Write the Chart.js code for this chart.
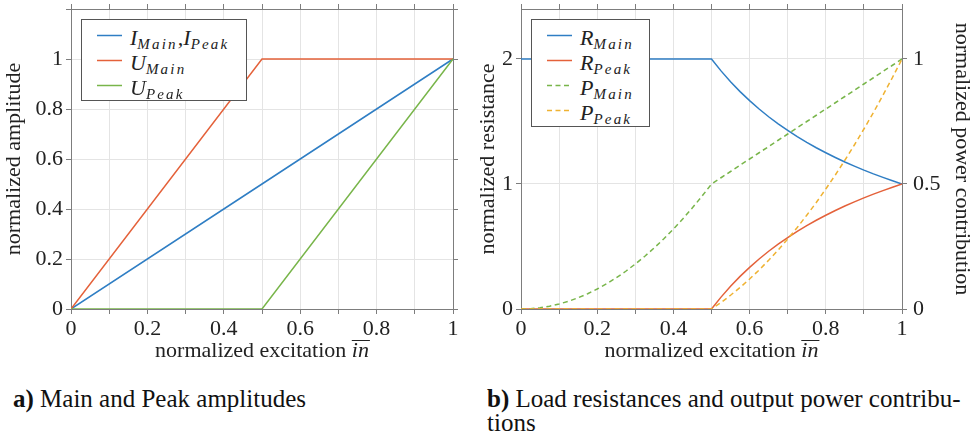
<!DOCTYPE html>
<html>
<head>
<meta charset="utf-8">
<script src="https://cdn.jsdelivr.net/npm/chart.js@4.4.0/dist/chart.umd.min.js"></script>
<style>
  body { margin: 0; background: #fff; width: 979px; height: 440px; position: relative; overflow: hidden; }
  canvas { position: absolute; top: 0; }
  .legend { position: absolute; background: #fff; border: 1px solid #555; box-sizing: border-box;
            font-family: "Liberation Serif", serif; font-size: 22px; color: #222; }
  .legend .row { position: absolute; left: 0; right: 0; height: 25px; }
  .legend svg { position: absolute; left: 15px; top: 10px; }
  .legend .txt { position: absolute; left: 48px; top: 2px; line-height: 25px; white-space: nowrap; font-style: italic; }
  .legend sub { font-size: 15px; letter-spacing: 2.2px; vertical-align: -4px; line-height: 0; }
  .caption { position: absolute; font-family: "Liberation Serif", serif; font-size: 25px; color: #111; line-height: 24px; }
</style>
</head>
<body>
<canvas id="chartA" width="474" height="370" style="left:0"></canvas>
<canvas id="chartB" width="505" height="370" style="left:474px"></canvas>
<div class="legend" id="legendA" style="left:81px; top:19px; width:166px; height:82px"></div>
<div class="legend" id="legendB" style="left:531px; top:19px; width:119px; height:108px"></div>
<div class="caption" style="left:13px; top:387px"><b>a)</b> Main and Peak amplitudes</div>
<div class="caption" style="left:487px; top:387px"><b>b)</b> Load resistances and output power contribu-<br>tions</div>
<script>
// (a) amplitudes, piecewise linear over the excitation
const ampX = [0, 0.5, 1];
const iMainPeak = [0, 0.5, 1];
const uMain = [0, 1, 1];
const uPeak = [0, 0, 1];

// (b) resistances (left axis) and power contributions (right axis)
const excX = [0, 0.025, 0.05, 0.075, 0.1, 0.125, 0.15, 0.175, 0.2, 0.225, 0.25,
              0.275, 0.3, 0.325, 0.35, 0.375, 0.4, 0.425, 0.45, 0.475, 0.5,
              0.525, 0.55, 0.575, 0.6, 0.625, 0.65, 0.675, 0.7, 0.725, 0.75,
              0.775, 0.8, 0.825, 0.85, 0.875, 0.9, 0.925, 0.95, 0.975, 1];
const rMain = [2, 2, 2, 2, 2, 2, 2, 2, 2, 2, 2,
               2, 2, 2, 2, 2, 2, 2, 2, 2, 2,
               1.905, 1.818, 1.739, 1.667, 1.6, 1.538, 1.481, 1.429, 1.379, 1.333,
               1.29, 1.25, 1.212, 1.176, 1.143, 1.111, 1.081, 1.053, 1.026, 1];
const rPeak = [0, 0, 0, 0, 0, 0, 0, 0, 0, 0, 0,
               0, 0, 0, 0, 0, 0, 0, 0, 0, 0,
               0.095, 0.182, 0.261, 0.333, 0.4, 0.462, 0.519, 0.571, 0.621, 0.667,
               0.71, 0.75, 0.788, 0.824, 0.857, 0.889, 0.919, 0.947, 0.974, 1];
const pMain = [0, 0.001, 0.005, 0.011, 0.02, 0.031, 0.045, 0.061, 0.08, 0.101, 0.125,
               0.151, 0.18, 0.211, 0.245, 0.281, 0.32, 0.361, 0.405, 0.451, 0.5,
               0.525, 0.55, 0.575, 0.6, 0.625, 0.65, 0.675, 0.7, 0.725, 0.75,
               0.775, 0.8, 0.825, 0.85, 0.875, 0.9, 0.925, 0.95, 0.975, 1];
const pPeak = [0, 0, 0, 0, 0, 0, 0, 0, 0, 0, 0,
               0, 0, 0, 0, 0, 0, 0, 0, 0, 0,
               0.026, 0.055, 0.086, 0.12, 0.156, 0.195, 0.236, 0.28, 0.326, 0.375,
               0.426, 0.48, 0.536, 0.595, 0.656, 0.72, 0.786, 0.855, 0.926, 1];

// labelled tick values
const xTicks = [0, 0.2, 0.4, 0.6, 0.8, 1];
const ampTicks = [0, 0.2, 0.4, 0.6, 0.8, 1];
const resTicks = [0, 1, 2];
const powTicks = [0, 0.5, 1];

const BLUE = '#2f7ec4', RED = '#e4613a', GREEN = '#78b54a', YELLOW = '#efb232';
const GRID = '#e4e4e4', AXIS = '#7d7d7d', TEXT = '#222';
const FAMILY = '"Liberation Serif", "DejaVu Serif", serif';
const serif = { family: FAMILY, size: 22 };

const pts = (xs, ys) => xs.map((x, i) => ({ x: x, y: ys[i] }));

function labelIf(list) {
  return v => {
    const hit = list.find(t => Math.abs(t - v) < 1e-6);
    return hit === undefined ? '' : String(hit);
  };
}

// fixed-size axis so both plot frames line up
function axis(pos, min, max, step, opts) {
  const o = opts || {};
  const horizontal = pos === 'top' || pos === 'bottom';
  return {
    type: 'linear', position: pos, min: min, max: max,
    border: { display: true, color: AXIS, width: 1 },
    grid: { color: GRID, tickColor: AXIS, tickLength: 5, drawOnChartArea: !!o.grid },
    ticks: {
      display: !!o.labels, stepSize: step, includeBounds: false, autoSkip: false, maxRotation: 0,
      padding: o.pad || 3, font: serif, color: TEXT,
      callback: o.labels ? labelIf(o.labels) : () => ''
    },
    title: o.title ? { display: true, text: o.title, font: serif, color: TEXT, padding: { top: o.titlePad || 1, bottom: 0 } } : { display: false },
    afterFit: s => {
      if (horizontal) s.height = o.size; else s.width = o.size;
      s.paddingTop = s.paddingBottom = s.paddingLeft = s.paddingRight = 0;
    }
  };
}

// x-axis title with an overlined italic "in"
const excitationTitle = {
  id: 'excitationTitle',
  afterDraw(chart) {
    const { ctx, chartArea } = chart;
    const head = 'normalized excitation ';
    ctx.save();
    ctx.fillStyle = TEXT;
    ctx.textBaseline = 'alphabetic';
    ctx.font = '22px ' + FAMILY;
    const w1 = ctx.measureText(head).width;
    ctx.font = 'italic 22px ' + FAMILY;
    const w2 = ctx.measureText('in').width;
    const x0 = (chartArea.left + chartArea.right) / 2 - (w1 + w2) / 2;
    const y = 357;
    ctx.font = '22px ' + FAMILY;
    ctx.fillText(head, x0, y);
    ctx.font = 'italic 22px ' + FAMILY;
    ctx.fillText('in', x0 + w1, y);
    ctx.strokeStyle = TEXT;
    ctx.lineWidth = 1;
    ctx.beginPath();
    ctx.moveTo(x0 + w1, 340.5);
    ctx.lineTo(x0 + w1 + w2 + 1, 340.5);
    ctx.stroke();
    ctx.restore();
  }
};

const lineDefaults = { pointRadius: 0, borderWidth: 1.5, fill: false, tension: 0 };

// legend boxes with subscripted symbols
function buildLegend(el, chart) {
  chart.data.datasets.forEach((ds, i) => {
    const row = document.createElement('div');
    row.className = 'row';
    row.style.top = (2.5 + 25 * i) + 'px';
    const dash = ds.borderDash ? ' stroke-dasharray="5 3.5"' : '';
    row.innerHTML =
      '<svg width="25" height="5"><line x1="0" y1="2.5" x2="25" y2="2.5" stroke="' + ds.borderColor +
      '" stroke-width="1.5"' + dash + '/></svg><span class="txt">' + ds.tex + '</span>';
    el.appendChild(row);
  });
}

function drawCharts() {
  const chartA = new Chart(document.getElementById('chartA'), {
    type: 'line',
    data: {
      datasets: [
        Object.assign({ label: 'I_Main, I_Peak', tex: '<i>I</i><sub>Main</sub>,<i>I</i><sub>Peak</sub>',
          data: pts(ampX, iMainPeak), borderColor: BLUE, order: 2 }, lineDefaults),
        Object.assign({ label: 'U_Main', tex: '<i>U</i><sub>Main</sub>',
          data: pts(ampX, uMain), borderColor: RED, order: 1 }, lineDefaults),
        Object.assign({ label: 'U_Peak', tex: '<i>U</i><sub>Peak</sub>',
          data: pts(ampX, uPeak), borderColor: GREEN, order: 0 }, lineDefaults)
      ]
    },
    options: {
      responsive: false, animation: false,
      layout: { padding: 0 },
      plugins: { legend: { display: false }, tooltip: { enabled: false } },
      scales: {
        x: axis('bottom', 0, 1, 0.1, { labels: xTicks, grid: true, size: 61, pad: 2 }),
        xTop: axis('top', 0, 1, 0.1, { size: 9 }),
        y: axis('left', 0, 1.2, 0.2, { labels: ampTicks, grid: true, size: 71, title: 'normalized amplitude' }),
        yRight: axis('right', 0, 1.2, 0.2, { size: 21 })
      }
    },
    plugins: [excitationTitle]
  });

  const chartB = new Chart(document.getElementById('chartB'), {
    type: 'line',
    data: {
      datasets: [
        Object.assign({ label: 'R_Main', tex: '<i>R</i><sub>Main</sub>',
          data: pts(excX, rMain), borderColor: BLUE, yAxisID: 'y', order: 3 }, lineDefaults),
        Object.assign({ label: 'R_Peak', tex: '<i>R</i><sub>Peak</sub>',
          data: pts(excX, rPeak), borderColor: RED, yAxisID: 'y', order: 2 }, lineDefaults),
        Object.assign({ label: 'P_Main', tex: '<i>P</i><sub>Main</sub>',
          data: pts(excX, pMain), borderColor: GREEN, borderDash: [5, 3.5], yAxisID: 'y1', order: 1 }, lineDefaults),
        Object.assign({ label: 'P_Peak', tex: '<i>P</i><sub>Peak</sub>',
          data: pts(excX, pPeak), borderColor: YELLOW, borderDash: [5, 3.5], yAxisID: 'y1', order: 0 }, lineDefaults)
      ]
    },
    options: {
      responsive: false, animation: false,
      layout: { padding: 0 },
      plugins: { legend: { display: false }, tooltip: { enabled: false } },
      scales: {
        x: axis('bottom', 0, 1, 0.1, { labels: xTicks, grid: true, size: 61, pad: 2 }),
        xTop: axis('top', 0, 1, 0.1, { size: 9 }),
        y: axis('left', 0, 2.4, 1, { labels: resTicks, grid: true, size: 47, title: 'normalized resistance' }),
        y1: axis('right', 0, 1.2, 0.5, { labels: powTicks, size: 77, pad: 6, title: 'normalized power contribution', titlePad: 4 })
      }
    },
    plugins: [excitationTitle]
  });

  buildLegend(document.getElementById('legendA'), chartA);
  buildLegend(document.getElementById('legendB'), chartB);
}

// canvas text needs the serif faces ready before the first draw
Promise.all([
  document.fonts.load('22px "Liberation Serif"'),
  document.fonts.load('italic 22px "Liberation Serif"')
]).catch(() => {}).then(drawCharts);
</script>
</body>
</html>
